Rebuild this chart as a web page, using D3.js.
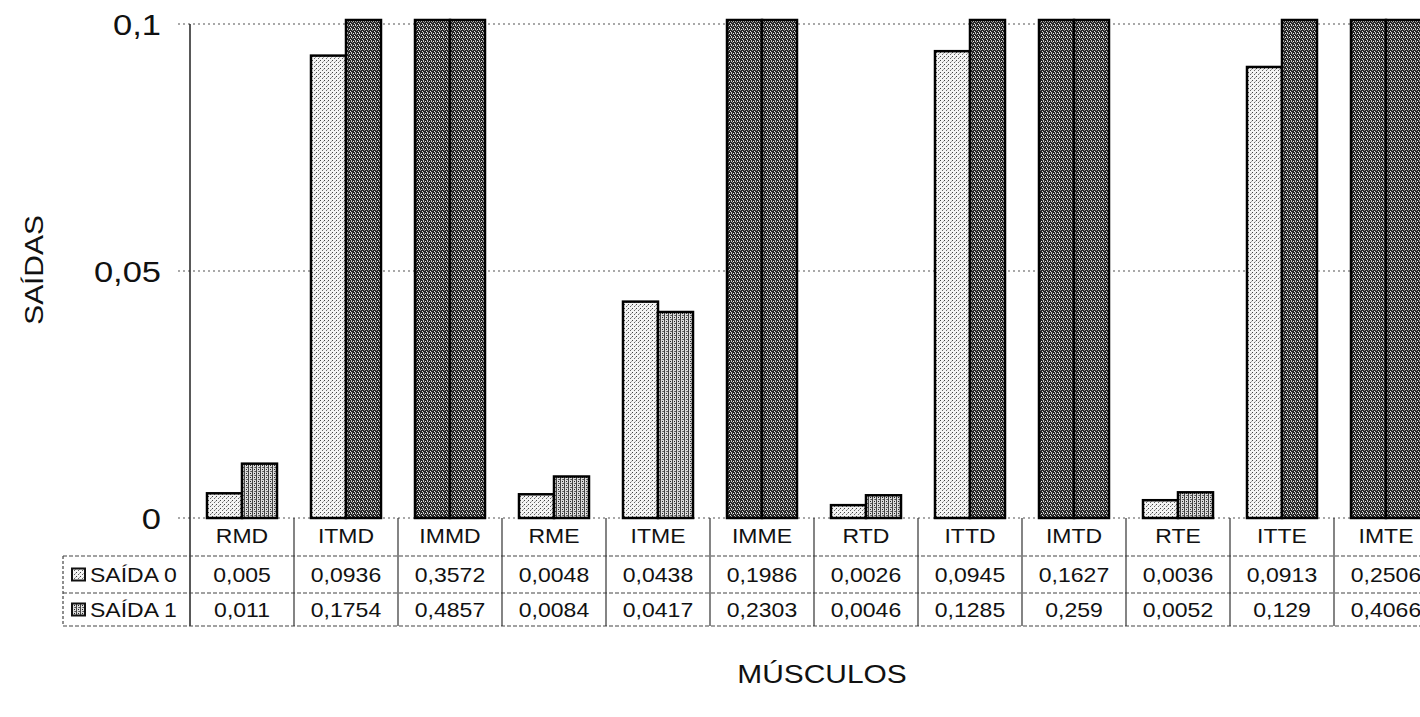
<!DOCTYPE html>
<html><head><meta charset="utf-8">
<script src="https://cdn.jsdelivr.net/npm/d3@7"></script>
<style>
body{margin:0;background:#fff}
svg{display:block}
text{font-family:"Liberation Sans",Arial,Helvetica,sans-serif;fill:#111}
</style></head>
<body><svg id="c" width="1420" height="717"></svg>
<script>
// ---- data ----
const categories = ["RMD","ITMD","IMMD","RME","ITME","IMME","RTD","ITTD","IMTD","RTE","ITTE","IMTE"];
const seriesNames = ["SAÍDA 0","SAÍDA 1"];
const saida0 = [0.005,0.0936,0.3572,0.0048,0.0438,0.1986,0.0026,0.0945,0.1627,0.0036,0.0913,0.2506];
const saida1 = [0.011,0.1754,0.4857,0.0084,0.0417,0.2303,0.0046,0.1285,0.259,0.0052,0.129,0.4066];
const saida0Labels = ["0,005","0,0936","0,3572","0,0048","0,0438","0,1986","0,0026","0,0945","0,1627","0,0036","0,0913","0,2506"];
const saida1Labels = ["0,011","0,1754","0,4857","0,0084","0,0417","0,2303","0,0046","0,1285","0,259","0,0052","0,129","0,4066"];
const yTicks = [0, 0.05, 0.1];
const yTickLabels = ["0","0,05","0,1"];
const yTitle = "SAÍDAS";
const xTitle = "MÚSCULOS";

// ---- layout ----
const svg = d3.select("#c");
const plotLeft = 190, plotRight = 1438, yBase = 518, yTop = 24;
const rowTops = [518, 556, 593, 626];
const legendLeft = 63;
const SX = 1.15;

const x = d3.scaleBand().domain(categories).range([plotLeft, plotRight]).padding(0);
const x1 = d3.scaleBand().domain([0,1]).range([17, x.bandwidth()-17]).padding(0);
const y = d3.scaleLinear().domain([0, 0.1]).range([yBase, yTop]);

// ---- patterns ----
const defs = svg.append("defs");
function pat(id, w, h, bg, dots){
  const p = defs.append("pattern").attr("id", id).attr("patternUnits","userSpaceOnUse").attr("width",w).attr("height",h);
  p.append("rect").attr("width",w).attr("height",h).attr("fill",bg);
  dots.forEach(d => p.append("rect").attr("x",d[0]).attr("y",d[1]).attr("width",d[2]).attr("height",d[3]).attr("fill",d[4]));
}
pat("light", 4, 4, "#f4f4f4", [[0,0,1,1,"#444"],[2,2,1,1,"#666"],[3,1,1,1,"#aaa"]]);
pat("medium", 4, 4, "#dcdcdc", [[0,0,1,4,"#444"],[2,1,1,1,"#222"],[3,3,1,1,"#555"],[2,3,1,1,"#777"]]);
pat("dark", 4, 4, "#262626", [[1,1,1,1,"#eee"],[3,0,1,2,"#c8c8c8"],[2,3,1,1,"#e0e0e0"],[0,2,1,1,"#888"]]);

// ---- gridlines ----
svg.append("g").selectAll("line").data(yTicks).join("line")
  .attr("x1", plotLeft - 12).attr("x2", 1420)
  .attr("y1", d => y(d)).attr("y2", d => y(d))
  .attr("stroke", "#555").attr("stroke-width", 1.2).attr("stroke-dasharray", "2,3");

// ---- bars ----
const series = [saida0, saida1];
const clipTop = y(0.1) - 4;
const bars = [];
categories.forEach((c, i) => series.forEach((s, k) => bars.push({c, k, v: s[i]})));
svg.append("g").selectAll("rect").data(bars).join("rect")
  .attr("x", d => x(d.c) + x1(d.k))
  .attr("width", x1.bandwidth())
  .attr("y", d => d.v > 0.1 ? clipTop : y(d.v))
  .attr("height", d => yBase - (d.v > 0.1 ? clipTop : y(d.v)))
  .attr("fill", d => d.v > 0.1 ? "url(#dark)" : (d.k === 0 ? "url(#light)" : "url(#medium)"))
  .attr("stroke", "#000").attr("stroke-width", 2.5);

// ---- y axis line ----
svg.append("line").attr("x1", plotLeft).attr("x2", plotLeft).attr("y1", y(0.1)).attr("y2", rowTops[3])
  .attr("stroke", "#222").attr("stroke-width", 1.5);

// ---- y tick labels ----
function stext(g, txt, tx, ty, size, anchor){
  return g.append("text").text(txt).attr("font-size", size).attr("text-anchor", anchor)
    .attr("transform", `translate(${tx},${ty}) scale(${SX},1)`);
}
const yl = svg.append("g");
yTicks.forEach((t, i) => stext(yl, yTickLabels[i], 161, y(t) + 11, 30, "end"));

// ---- table ----
const tg = svg.append("g");
[rowTops[1], rowTops[2], rowTops[3]].forEach(ry => {
  tg.append("line").attr("x1", legendLeft).attr("x2", 1420).attr("y1", ry).attr("y2", ry)
    .attr("stroke", "#444").attr("stroke-width", 1.2).attr("stroke-dasharray", "4,2");
});
tg.append("line").attr("x1", legendLeft).attr("x2", legendLeft).attr("y1", rowTops[1]).attr("y2", rowTops[3])
  .attr("stroke", "#444").attr("stroke-width", 1.2).attr("stroke-dasharray", "3,2");
categories.forEach((c, i) => {
  if (i === 0) return;
  tg.append("line").attr("x1", x(c)).attr("x2", x(c)).attr("y1", rowTops[0]).attr("y2", rowTops[3])
    .attr("stroke", "#333").attr("stroke-width", 1.2);
});
categories.forEach((c, i) => {
  const cx = x(c) + x.bandwidth() / 2;
  stext(tg, c, cx, 543, 20, "middle");
  stext(tg, saida0Labels[i], cx, 582, 20, "middle");
  stext(tg, saida1Labels[i], cx, 617, 20, "middle");
});
seriesNames.forEach((n, k) => {
  const ry = k === 0 ? 574.5 : 609.5;
  tg.append("rect").attr("x", 72).attr("y", ry - 6).attr("width", 13).attr("height", 12)
    .attr("fill", k === 0 ? "url(#light)" : "url(#medium)").attr("stroke", "#111").attr("stroke-width", 2);
  stext(tg, n, 90, ry + 7, 20, "start");
});

// ---- titles ----
svg.append("text").text(yTitle).attr("font-size", 26).attr("text-anchor", "middle")
  .attr("transform", `translate(43,270) rotate(-90) scale(1.15,1)`);
stext(svg, xTitle, 822, 683, 26, "middle");
</script></body></html>
